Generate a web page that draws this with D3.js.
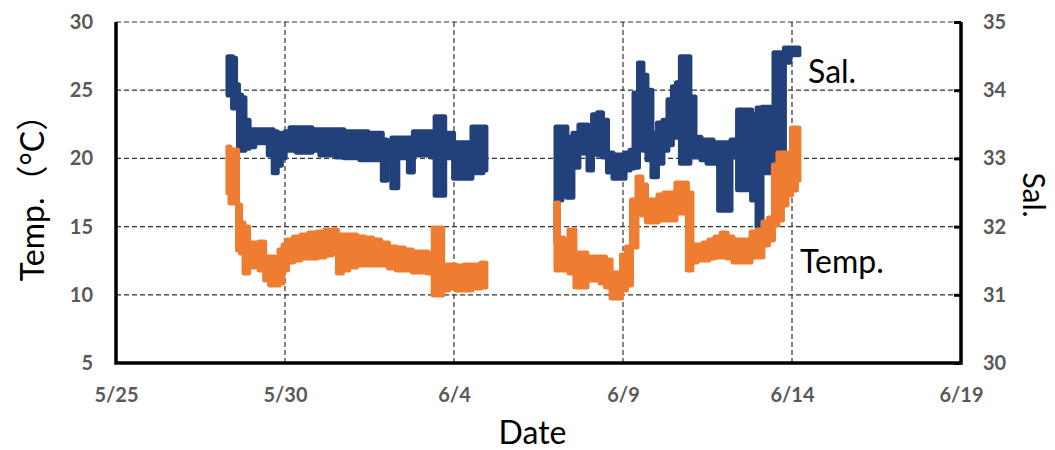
<!DOCTYPE html>
<html>
<head>
<meta charset="utf-8">
<script src="https://cdn.jsdelivr.net/npm/d3@7"></script>
<style>
  body { margin: 0; background: #fff; }
  svg { display: block; font-family: Lato, 'Noto Sans CJK JP', sans-serif; }
</style>
</head>
<body>
<svg id="chart" width="1055" height="450"></svg>
<script>
/* tick labels */
const dateTicks = ['5/25', '5/30', '6/4', '6/9', '6/14', '6/19'];
const tempTicks = [5, 10, 15, 20, 25, 30];
const salTicks = [30, 31, 32, 33, 34, 35];

/* salinity: [time, min, max] */
const salSeg1 = [
  ['5/28 07:30', 33.93, 34.49], ['5/28 09:40', 34.15, 34.49], ['5/28 11:50', 33.74, 34.47],
  ['5/28 13:55', 33.74, 34.08], ['5/28 16:00', 33.12, 33.93], ['5/28 18:10', 33.12, 33.89],
  ['5/28 21:00', 33.15, 33.56], ['5/29 00:00', 33.17, 33.42], ['5/29 05:00', 33.23, 33.42],
  ['5/29 10:00', 33.23, 33.42], ['5/29 14:15', 33.05, 33.42], ['5/29 17:00', 32.79, 33.39],
  ['5/29 20:00', 32.90, 33.34], ['5/29 22:50', 33.01, 33.37], ['5/30 01:25', 33.12, 33.39],
  ['5/30 05:40', 33.12, 33.45], ['5/30 10:40', 33.09, 33.45], ['5/30 16:20', 33.09, 33.45],
  ['5/30 22:00', 33.12, 33.42], ['5/31 03:30', 33.05, 33.42], ['5/31 09:20', 33.05, 33.42],
  ['5/31 15:00', 33.02, 33.42], ['5/31 20:40', 33.01, 33.39], ['6/1 02:20', 33.01, 33.39],
  ['6/1 08:00', 32.98, 33.39], ['6/1 13:40', 32.98, 33.37], ['6/1 19:20', 32.98, 33.37],
  ['6/1 22:50', 32.68, 33.27], ['6/2 01:45', 32.98, 33.24], ['6/2 06:00', 32.57, 33.30],
  ['6/2 10:15', 33.01, 33.30], ['6/2 13:50', 33.01, 33.30], ['6/2 17:20', 32.80, 33.30],
  ['6/2 21:00', 33.05, 33.39], ['6/3 01:20', 33.05, 33.39], ['6/3 05:40', 33.05, 33.39],
  ['6/3 09:10', 33.02, 33.39], ['6/3 12:00', 32.46, 33.61], ['6/3 15:40', 32.46, 33.61],
  ['6/3 19:10', 33.01, 33.37], ['6/3 22:00', 33.01, 33.37], ['6/4 01:25', 32.71, 33.23],
  ['6/4 06:25', 32.71, 33.23], ['6/4 11:20', 32.71, 33.23], ['6/4 14:10', 32.79, 33.46],
  ['6/4 18:25', 32.79, 33.46], ['6/4 22:40', 32.83, 33.46],
];
const salSeg2 = [
  ['6/7 00:25', 31.77, 33.46], ['6/7 03:15', 32.39, 33.46], ['6/7 06:00', 32.83, 33.46],
  ['6/7 10:20', 32.43, 33.31], ['6/7 14:35', 32.87, 33.37], ['6/7 18:50', 33.08, 33.49],
  ['6/7 21:40', 33.08, 33.49], ['6/8 00:35', 32.83, 33.31], ['6/8 04:10', 33.12, 33.64],
  ['6/8 07:40', 33.05, 33.67], ['6/8 11:15', 33.02, 33.56], ['6/8 14:45', 32.80, 33.08],
  ['6/8 19:00', 32.71, 33.05], ['6/8 23:20', 32.71, 33.05], ['6/9 03:35', 32.83, 33.08],
  ['6/9 06:25', 32.86, 33.12], ['6/9 09:15', 32.87, 33.96], ['6/9 12:45', 33.27, 34.40],
  ['6/9 15:35', 33.12, 34.22], ['6/9 18:25', 32.98, 34.00], ['6/9 22:40', 32.73, 33.37],
  ['6/10 02:15', 32.93, 33.52], ['6/10 06:30', 33.12, 33.56], ['6/10 09:20', 33.20, 33.86],
  ['6/10 12:50', 33.31, 34.05], ['6/10 15:00', 33.31, 34.11], ['6/10 18:30', 32.93, 34.49],
  ['6/10 22:00', 32.93, 34.49], ['6/11 01:00', 33.02, 33.90], ['6/11 05:15', 33.02, 33.31],
  ['6/11 09:30', 32.98, 33.27], ['6/11 13:50', 32.93, 33.27], ['6/11 18:05', 32.93, 33.23],
  ['6/11 21:40', 32.24, 33.23], ['6/12 02:35', 32.24, 33.23], ['6/12 06:50', 33.02, 33.27],
  ['6/12 11:50', 32.54, 33.71], ['6/12 16:50', 32.54, 33.71], ['6/12 21:45', 32.39, 33.64],
  ['6/13 00:35', 31.99, 33.74], ['6/13 04:50', 32.79, 33.75], ['6/13 09:05', 32.79, 33.75],
  ['6/13 13:20', 32.83, 34.55], ['6/13 16:50', 32.83, 34.55], ['6/13 20:25', 34.41, 34.62],
  ['6/14 00:40', 34.52, 34.62], ['6/14 04:55', 34.52, 34.62],
];

/* temperature: [time, min, max] */
const tempSeg1 = [
  ['5/28 07:30', 17.46, 20.84], ['5/28 10:25', 16.73, 20.62], ['5/28 13:15', 16.73, 20.62],
  ['5/28 15:20', 13.28, 16.58], ['5/28 17:30', 13.06, 15.26], ['5/28 20:20', 11.60, 14.97],
  ['5/29 00:00', 12.04, 13.80], ['5/29 03:30', 12.04, 13.80], ['5/29 07:45', 11.82, 13.87],
  ['5/29 11:20', 11.09, 12.77], ['5/29 14:50', 10.72, 12.77], ['5/29 18:20', 10.72, 12.55],
  ['5/29 21:10', 10.87, 13.28], ['5/30 00:00', 11.82, 13.65], ['5/30 03:35', 12.40, 14.02],
  ['5/30 08:30', 12.55, 14.24], ['5/30 14:10', 12.70, 14.38], ['5/30 19:50', 12.70, 14.53],
  ['5/31 01:30', 12.77, 14.60], ['5/31 07:10', 12.92, 14.75], ['5/31 11:25', 13.06, 14.75],
  ['5/31 15:00', 11.60, 14.38], ['5/31 18:30', 11.82, 14.38], ['6/1 00:00', 12.04, 14.38],
  ['6/1 05:40', 12.18, 14.24], ['6/1 11:20', 12.18, 14.16], ['6/1 17:00', 12.18, 14.02],
  ['6/1 22:40', 12.18, 13.80], ['6/2 04:15', 11.96, 13.50], ['6/2 09:55', 11.82, 13.43],
  ['6/2 15:35', 11.82, 13.28], ['6/2 21:10', 11.67, 13.14], ['6/3 02:50', 11.67, 13.14],
  ['6/3 07:05', 11.60, 13.06], ['6/3 11:20', 9.99, 14.90], ['6/3 14:10', 9.99, 14.90],
  ['6/3 17:45', 10.35, 12.18], ['6/3 22:40', 10.50, 12.18], ['6/4 04:15', 10.35, 12.11],
  ['6/4 09:55', 10.35, 12.18], ['6/4 15:35', 10.50, 12.18], ['6/4 22:40', 10.57, 12.33],
];
const tempSeg2 = [
  ['6/7 00:25', 11.82, 16.73], ['6/7 04:00', 11.82, 14.16], ['6/7 07:30', 11.82, 14.02],
  ['6/7 11:45', 11.60, 14.75], ['6/7 16:00', 10.57, 13.06], ['6/7 20:15', 10.57, 13.06],
  ['6/8 00:35', 11.09, 12.77], ['6/8 05:30', 11.09, 12.77], ['6/8 09:50', 10.87, 12.77],
  ['6/8 13:25', 10.57, 12.55], ['6/8 17:40', 9.77, 11.60], ['6/8 21:10', 9.77, 11.60],
  ['6/9 00:45', 10.35, 12.92], ['6/9 04:15', 10.72, 13.50], ['6/9 07:50', 13.50, 16.95],
  ['6/9 12:00', 16.00, 18.64], ['6/9 14:55', 15.85, 18.05], ['6/9 18:25', 15.34, 16.95],
  ['6/9 22:40', 15.34, 16.95], ['6/10 03:00', 15.48, 17.32], ['6/10 07:10', 15.48, 17.46],
  ['6/10 11:25', 15.48, 17.46], ['6/10 15:40', 16.00, 18.20], ['6/10 19:55', 16.00, 18.20],
  ['6/10 23:30', 11.82, 17.46], ['6/11 02:25', 12.40, 13.65], ['6/11 06:40', 12.55, 13.65],
  ['6/11 10:55', 12.55, 13.80], ['6/11 15:10', 12.70, 14.02], ['6/11 19:25', 12.77, 14.24],
  ['6/12 00:00', 12.77, 14.53], ['6/12 04:00', 12.70, 14.24], ['6/12 08:15', 12.40, 14.02],
  ['6/12 12:30', 12.40, 14.02], ['6/12 16:50', 12.40, 14.02], ['6/12 21:00', 12.77, 14.60],
  ['6/13 01:15', 12.77, 14.75], ['6/13 05:30', 13.65, 15.34], ['6/13 09:05', 14.02, 15.63],
  ['6/13 12:35', 15.12, 19.52], ['6/13 15:25', 15.48, 20.40], ['6/13 19:00', 16.58, 20.40],
  ['6/13 21:50', 17.32, 20.25], ['6/14 01:25', 17.68, 22.23], ['6/14 04:55', 18.42, 22.23],
];

/* frame */
const margin = { top: 22, right: 94, bottom: 87, left: 116 };
const width = 1055;
const height = 450;
const blue = '#22407a';
const orange = '#ee7d31';

const parseTime = d3.timeParse('%m/%d %H:%M');

const svg = d3.select('#chart');

const x = d3.scaleTime()
  .domain([parseTime(dateTicks[0] + ' 00:00'), parseTime(dateTicks[dateTicks.length - 1] + ' 00:00')])
  .range([margin.left, width - margin.right]);
const yTemp = d3.scaleLinear().domain([5, 30]).range([height - margin.bottom, margin.top]);
const ySal = d3.scaleLinear().domain([30, 35]).range([height - margin.bottom, margin.top]);

const x0 = margin.left;
const x1 = width - margin.right;
const y0 = height - margin.bottom;
const y1 = margin.top;

/* dashed grid */
const grid = svg.append('g')
  .attr('stroke', '#333')
  .attr('stroke-width', 1.2)
  .attr('stroke-dasharray', '5,3');

grid.selectAll('line.h')
  .data(tempTicks.slice(1))
  .enter()
  .append('line')
  .attr('x1', x0)
  .attr('x2', x1)
  .attr('y1', d => yTemp(d))
  .attr('y2', d => yTemp(d));

grid.selectAll('line.v')
  .data(dateTicks.slice(1, -1))
  .enter()
  .append('line')
  .attr('x1', d => x(parseTime(d + ' 00:00')))
  .attr('x2', d => x(parseTime(d + ' 00:00')))
  .attr('y1', y1)
  .attr('y2', y0);

/* bands of measurements (min..max per reading window) */
const bandFor = y => d3.area()
  .curve(d3.curveStep)
  .x(d => x(parseTime(d[0])))
  .y0(d => y(d[1]))
  .y1(d => y(d[2]));

const drawBand = (data, y, color) => {
  svg.append('path')
    .datum(data)
    .attr('d', bandFor(y))
    .attr('fill', color)
    .attr('stroke', color)
    .attr('stroke-width', 5)
    .attr('stroke-linejoin', 'round');
};

drawBand(salSeg1, ySal, blue);
drawBand(salSeg2, ySal, blue);
drawBand(tempSeg1, yTemp, orange);
drawBand(tempSeg2, yTemp, orange);

/* axes */
const tickFont = g => g
  .attr('font-family', 'Lato, sans-serif')
  .attr('font-size', 20)
  .attr('font-weight', 700)
  .call(s => s.selectAll('text').attr('fill', '#595959'));

svg.append('g')
  .attr('transform', `translate(${x0},0)`)
  .call(d3.axisLeft(yTemp).tickValues(tempTicks).tickSize(0).tickPadding(23))
  .call(g => g.select('.domain').remove())
  .call(tickFont);

svg.append('g')
  .attr('transform', `translate(${x1},0)`)
  .call(d3.axisRight(ySal).tickValues(salTicks).tickFormat(d3.format('d'))
    .tickSizeInner(-7).tickSizeOuter(0).tickPadding(22))
  .call(g => g.select('.domain').remove())
  .call(g => g.selectAll('line').attr('stroke', '#000').attr('stroke-width', 3))
  .call(tickFont);

svg.append('g')
  .attr('transform', `translate(0,${y0})`)
  .call(d3.axisBottom(x)
    .tickValues(dateTicks.map(d => parseTime(d + ' 00:00')))
    .tickFormat((d, i) => dateTicks[i])
    .tickSize(0)
    .tickPadding(25))
  .call(g => g.select('.domain').remove())
  .call(tickFont);

/* solid frame lines: left, bottom, right */
svg.append('path')
  .attr('d', `M${x0},${y1}V${y0}H${x1}V${y1}`)
  .attr('fill', 'none')
  .attr('stroke', '#000')
  .attr('stroke-width', 3.5);

/* titles */
svg.append('text')
  .attr('x', (x0 + x1) / 2 - 6)
  .attr('y', 444)
  .attr('text-anchor', 'middle')
  .attr('font-size', 32)
  .text('Date');

svg.append('text')
  .attr('transform', 'translate(44,190) rotate(-90)')
  .attr('text-anchor', 'middle')
  .attr('font-size', 32)
  .text('Temp.（°C）');

svg.append('text')
  .attr('transform', 'translate(1023,195) rotate(90)')
  .attr('text-anchor', 'middle')
  .attr('font-size', 30)
  .text('Sal.');

/* series labels inside the plot */
svg.append('text')
  .attr('x', 808)
  .attr('y', 83)
  .attr('font-size', 32)
  .text('Sal.');

svg.append('text')
  .attr('x', 800)
  .attr('y', 273)
  .attr('font-size', 32)
  .text('Temp.');
</script>
</body>
</html>
